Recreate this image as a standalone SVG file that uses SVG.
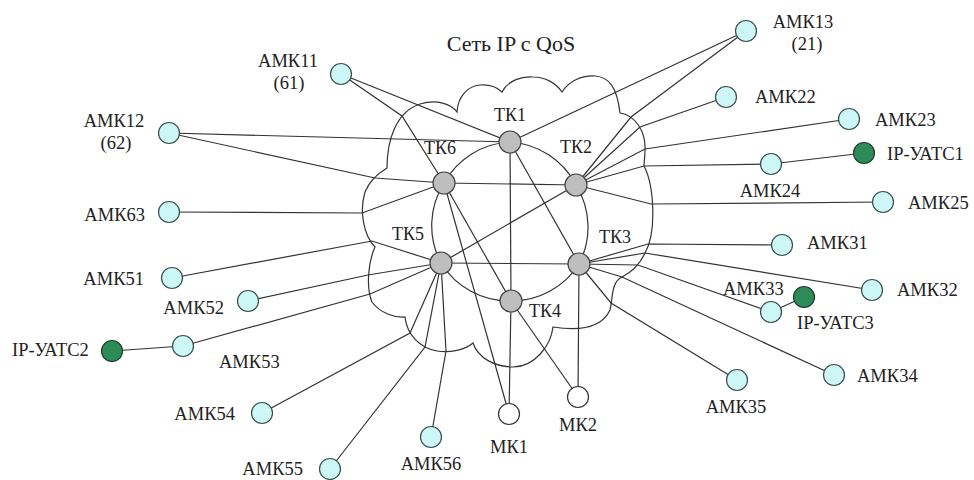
<svg xmlns="http://www.w3.org/2000/svg" width="974" height="480" viewBox="0 0 974 480">
  <style>
    .ln { fill: none; stroke: #333; stroke-width: 1.2; }
    .cloud { fill: none; stroke: #333; stroke-width: 1.2; }
    .tk { fill: #BEBEBE; stroke: #444; stroke-width: 1.2; }
    .amk { fill: #CDF7F7; stroke: #37504F; stroke-width: 1.2; }
    .ip { fill: #2E8A57; stroke: #1E3D2C; stroke-width: 1.2; }
    .mk { fill: #FFFFFF; stroke: #333; stroke-width: 1.2; }
    text { font-family: "Liberation Serif", "Times New Roman", serif; font-size: 18.5px; fill: #222; }
    .tkl { font-size: 18px; }
    .title { font-size: 22px; }
    .m { text-anchor: middle; }
    .e { text-anchor: end; }
  </style>
  <rect width="974" height="480" fill="#FFFFFF"/>

  <!-- IP network cloud -->
  <path id="cloud" class="cloud" d="M387,168 C387,140 396,112 420,104 C437,99 451,104 457,112 C458,96 468,86 480,85 C490,84 498,88 502,92 C508,80 523,76 533,77 C545,77 556,83 562,92 C569,81 582,75 595,76 C609,77 617,87 620,113 C634,115 646,130 645,150 C645,157 644,162 644,166 C654,185 657,232 645,253 C640,264 632,272 622,277 C611,282 613,298 610,310 C603,325 585,332 553,327 C551,345 535,367 513,367 C495,367 478,358 473,343 C465,350 450,353 437,351 C420,348 407,335 405,317 C395,318 380,313 372,302 C366,288 368,262 375,247 C364,236 359,212 365,192 C369,182 377,174 387,168 Z"/>
  <text class="title m" x="511" y="51">Сеть IP с QoS</text>

  <!-- connectors -->
  <g id="connectors" class="ln">
    <!-- ring of transit nodes -->
    <path d="M510,142 A80,80 0 0 1 576,185 A80,80 0 0 1 579,264 A80,80 0 0 1 511,301 A80,80 0 0 1 441,263 A80,80 0 0 1 444,183 A80,80 0 0 1 510,142"/>
    <!-- chords inside the cloud -->
    <path d="M444,183 L576,185"/>
    <path d="M441,263 L579,264"/>
    <path d="M441,263 L576,185"/>
    <path d="M510,142 L579,264"/>
    <path d="M510,142 L511,301"/>
    <path d="M444,183 L511,301"/>
    <path d="M444,183 L509,414"/>
    <path d="M511,301 L509,414"/>
    <path d="M511,301 L578,397"/>
    <path d="M579,264 L578,397"/>
    <!-- TK1 / TK6 access -->
    <path d="M341,74 L510,142"/>
    <path d="M341,74 L402,116 L444,183"/>
    <path d="M169,133 L510,142"/>
    <path d="M169,133 L375,178 L444,183"/>
    <path d="M169,212 L362,213 L444,183"/>
    <path d="M746,31 L510,142"/>
    <!-- TK2 access -->
    <path d="M746,31 L631,117 L576,185"/>
    <path d="M726,97 L640,127 L576,185"/>
    <path d="M849,119 L645,149 L576,185"/>
    <path d="M771,164 L644,166 L576,185"/>
    <path d="M864,153 L771,164"/>
    <path d="M883,202 L651,204 L576,185"/>
    <!-- TK3 access -->
    <path d="M782,245 L648,244 L579,264"/>
    <path d="M872,290 L645,253 L579,264"/>
    <path d="M771,312 L638,265 L579,264"/>
    <path d="M804,297 L771,312"/>
    <path d="M834,375 L622,277 L579,264"/>
    <path d="M737,380 L611,303 L579,264"/>
    <!-- TK5 access -->
    <path d="M172,278 L372,241 L441,263"/>
    <path d="M248,301 L368,275 L441,263"/>
    <path d="M183,346 L370,294 L441,263"/>
    <path d="M112,351 L183,346"/>
    <path d="M262,413 L410,333 L441,263"/>
    <path d="M330,469 L425,347 L441,263"/>
    <path d="M431,437 L446,351 L441,263"/>
  </g>

  <!-- transit nodes -->
  <g id="tk1"><circle class="tk" cx="510" cy="142" r="11"/><text class="tkl m" x="510" y="121">ТК1</text></g>
  <g id="tk2"><circle class="tk" cx="576" cy="185" r="11"/><text class="tkl m" x="576" y="153">ТК2</text></g>
  <g id="tk3"><circle class="tk" cx="579" cy="264" r="11"/><text class="tkl m" x="615" y="243">ТК3</text></g>
  <g id="tk4"><circle class="tk" cx="511" cy="301" r="11"/><text class="tkl" x="529" y="317">ТК4</text></g>
  <g id="tk5"><circle class="tk" cx="441" cy="263" r="11"/><text class="tkl m" x="408" y="240">ТК5</text></g>
  <g id="tk6"><circle class="tk" cx="444" cy="183" r="11"/><text class="tkl m" x="440" y="154">ТК6</text></g>

  <!-- media gateways -->
  <g id="mk1"><circle class="mk" cx="509" cy="414" r="10.5"/><text class="m" x="509" y="453">МК1</text></g>
  <g id="mk2"><circle class="mk" cx="578" cy="397" r="10.5"/><text class="m" x="578" y="431">МК2</text></g>

  <!-- IP PBX -->
  <g id="ip-uats1"><circle class="ip" cx="864" cy="153" r="10.5"/><text x="887" y="160">IP-УАТС1</text></g>
  <g id="ip-uats2"><circle class="ip" cx="112" cy="351" r="10.5"/><text x="12" y="356">IP-УАТС2</text></g>
  <g id="ip-uats3"><circle class="ip" cx="804" cy="297" r="10.5"/><text x="797" y="329">IP-УАТС3</text></g>

  <!-- access multiplexers -->
  <g id="amk11"><circle class="amk" cx="341" cy="74" r="10.5"/><text class="m" x="288" y="67">АМК11</text><text class="m" x="289" y="89">(61)</text></g>
  <g id="amk12"><circle class="amk" cx="169" cy="133" r="10.5"/><text class="m" x="114" y="127">АМК12</text><text class="m" x="116" y="149">(62)</text></g>
  <g id="amk13"><circle class="amk" cx="746" cy="31" r="10.5"/><text class="m" x="803" y="28">АМК13</text><text class="m" x="807" y="50">(21)</text></g>
  <g id="amk22"><circle class="amk" cx="726" cy="97" r="10.5"/><text x="755" y="103">АМК22</text></g>
  <g id="amk23"><circle class="amk" cx="849" cy="119" r="10.5"/><text x="875" y="126">АМК23</text></g>
  <g id="amk24"><circle class="amk" cx="771" cy="164" r="10.5"/><text class="m" x="770" y="197">АМК24</text></g>
  <g id="amk25"><circle class="amk" cx="883" cy="202" r="10.5"/><text x="908" y="209">АМК25</text></g>
  <g id="amk63"><circle class="amk" cx="169" cy="212" r="10.5"/><text class="e" x="145" y="221">АМК63</text></g>
  <g id="amk31"><circle class="amk" cx="782" cy="245" r="10.5"/><text x="807" y="249">АМК31</text></g>
  <g id="amk32"><circle class="amk" cx="872" cy="290" r="10.5"/><text x="897" y="296">АМК32</text></g>
  <g id="amk33"><circle class="amk" cx="771" cy="312" r="10.5"/><text x="723" y="295">АМК33</text></g>
  <g id="amk34"><circle class="amk" cx="834" cy="375" r="10.5"/><text x="857" y="382">АМК34</text></g>
  <g id="amk35"><circle class="amk" cx="737" cy="380" r="10.5"/><text class="m" x="736" y="413">АМК35</text></g>
  <g id="amk51"><circle class="amk" cx="172" cy="278" r="10.5"/><text class="e" x="144" y="285">АМК51</text></g>
  <g id="amk52"><circle class="amk" cx="248" cy="301" r="10.5"/><text class="e" x="224" y="314">АМК52</text></g>
  <g id="amk53"><circle class="amk" cx="183" cy="346" r="10.5"/><text x="219" y="368">АМК53</text></g>
  <g id="amk54"><circle class="amk" cx="262" cy="413" r="10.5"/><text class="e" x="235" y="420">АМК54</text></g>
  <g id="amk55"><circle class="amk" cx="330" cy="469" r="10.5"/><text class="e" x="303" y="475">АМК55</text></g>
  <g id="amk56"><circle class="amk" cx="431" cy="437" r="10.5"/><text class="m" x="431" y="470">АМК56</text></g>
</svg>
